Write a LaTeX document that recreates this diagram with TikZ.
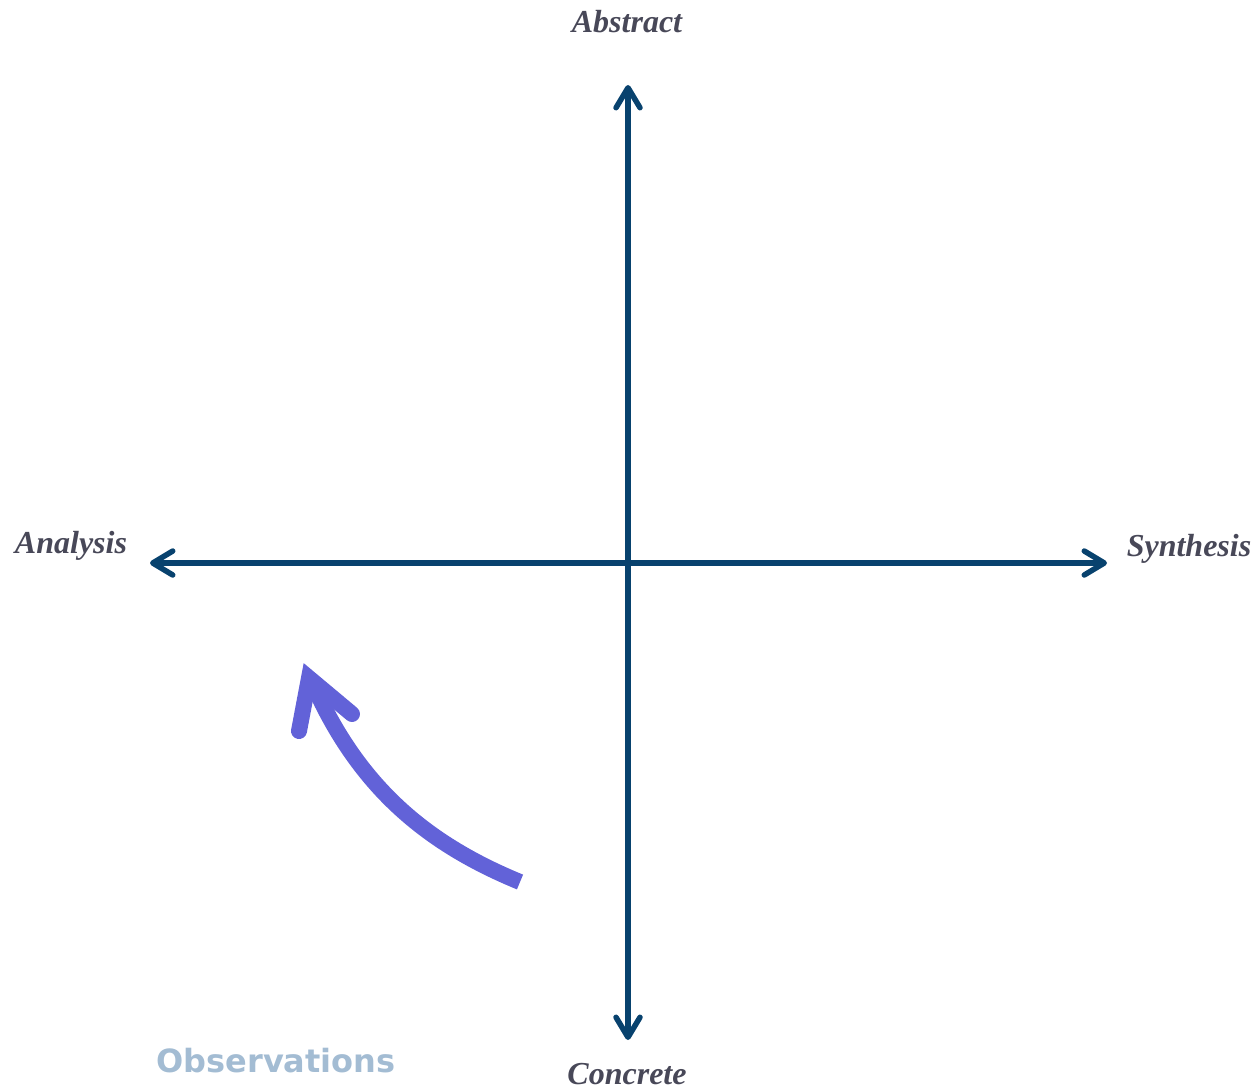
\documentclass[tikz,border=0pt]{standalone}
\usepackage{fontspec}
\setmainfont{Liberation Serif}
\newfontfamily\obsfont{DejaVu Sans}
\usetikzlibrary{arrows.meta}
\definecolor{axisblue}{RGB}{8,66,110}
\definecolor{labelgray}{RGB}{72,72,88}
\definecolor{obsblue}{RGB}{163,188,211}
\definecolor{curvepurple}{RGB}{98,98,216}
\tikzset{
  axisline/.style={draw=axisblue, line width=5.5pt, {Straight Barb[length=20pt,width=24pt,line cap=round,line join=round]}-{Straight Barb[length=20pt,width=24pt,line cap=round,line join=round]}},
  axislabel/.style={text=labelgray, font=\fontsize{32}{38}\selectfont\bfseries\itshape, inner sep=0pt},
  curvestroke/.style={draw=curvepurple, line width=16pt},
}
\begin{document}
\begin{tikzpicture}[x=1pt,y=-1pt]
\useasboundingbox (0,0) rectangle (1257,1089);
\coordinate (top) at (628,85);
\coordinate (bottom) at (628,1040);
\coordinate (left) at (150,563);
\coordinate (right) at (1107,563);
\draw[axisline] (bottom) -- (top);
\draw[axisline] (left) -- (right);
\node[axislabel] (abstract) at (627,22) {Abstract};
\node[axislabel] (concrete) at (627,1074) {Concrete};
\node[axislabel] (analysis) at (71,546) {Analysis};
\node[axislabel] (synthesis) at (1189,549) {Synthesis};
\node[text=obsblue, font=\fontsize{32}{38}\selectfont\obsfont\bfseries, inner sep=0pt] (obs) at (276,1061) {Observations};
\coordinate (cstart) at (520,882);
\coordinate (ctip) at (309,678);
\coordinate (barbL) at (299,731);
\coordinate (barbR) at (352,714);
\coordinate (cend) at (313,684);
\draw[curvestroke, line cap=butt] (cstart) .. controls (430,845) and (360,790) .. (cend);
\draw[curvestroke, line cap=round, line join=miter, miter limit=10] (barbL) -- (ctip) -- (barbR);
\end{tikzpicture}
\end{document}
